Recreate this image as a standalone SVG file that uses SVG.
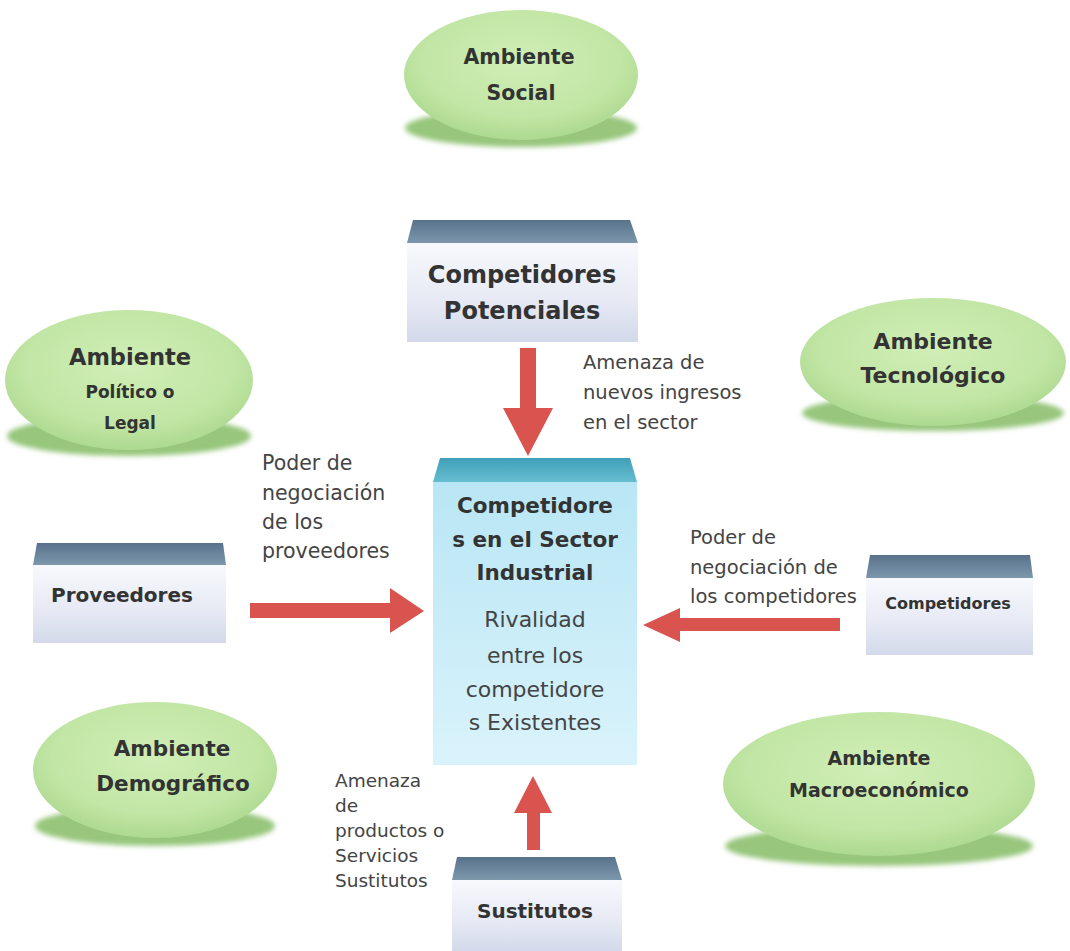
<svg xmlns="http://www.w3.org/2000/svg" width="1070" height="951" viewBox="0 0 1070 951">
<defs>
<radialGradient id="gEll" cx="50%" cy="40%" r="60%">
<stop offset="0" stop-color="#d0eeb6"/>
<stop offset="0.7" stop-color="#c2e6a5"/>
<stop offset="1" stop-color="#acd98f"/>
</radialGradient>
<linearGradient id="gBody" x1="0" y1="0" x2="0" y2="1">
<stop offset="0" stop-color="#f8f9fd"/>
<stop offset="0.6" stop-color="#e6e9f4"/>
<stop offset="1" stop-color="#d3d9ea"/>
</linearGradient>
<linearGradient id="gRoof" x1="0" y1="0" x2="0" y2="1">
<stop offset="0" stop-color="#57728a"/>
<stop offset="1" stop-color="#7d98ad"/>
</linearGradient>
<linearGradient id="gCBody" x1="0" y1="0" x2="0" y2="1">
<stop offset="0" stop-color="#b9e6f5"/>
<stop offset="1" stop-color="#d9f3fb"/>
</linearGradient>
<linearGradient id="gCRoof" x1="0" y1="0" x2="0" y2="1">
<stop offset="0" stop-color="#3f9fb8"/>
<stop offset="1" stop-color="#66bdd0"/>
</linearGradient>
<filter id="blur" x="-10%" y="-40%" width="120%" height="180%">
<feGaussianBlur stdDeviation="2.5"/>
</filter>
<style>
.sh{fill:#97c67c;filter:url(#blur)}
.el{fill:url(#gEll)}
.body{fill:url(#gBody)}
.roof{fill:url(#gRoof)}
.b{font-family:"DejaVu Sans","Liberation Sans",sans-serif;font-weight:bold;fill:#333;text-anchor:middle}
.r{font-family:"DejaVu Sans","Liberation Sans",sans-serif;fill:#444}
.rc{font-family:"DejaVu Sans","Liberation Sans",sans-serif;fill:#444;text-anchor:middle}
.arr{fill:#d9534f}
</style>
</defs>
<rect width="1070" height="951" fill="#ffffff"/>

<g id="connectors">
<polygon class="arr" points="520,348 536,348 536,408 553,408 528,456 503,408 520,408"/>
<polygon class="arr" points="250,603 390,603 390,588 424,611 390,633 390,618 250,618"/>
<polygon class="arr" points="840,618 680,618 680,608 643,625 680,642 680,631 840,631"/>
<polygon class="arr" points="527,850 540,850 540,813 552,813 533,776 514,813 527,813"/>
</g>

<g id="label-nuevos">
<text class="r" font-size="19.5" x="583" y="369">Amenaza de</text>
<text class="r" font-size="19.5" x="583" y="399">nuevos ingresos</text>
<text class="r" font-size="19.5" x="583" y="429">en el sector</text>
</g>
<g id="label-proveedores">
<text class="r" font-size="20.5" x="262" y="470">Poder de</text>
<text class="r" font-size="20.5" x="262" y="500">negociación</text>
<text class="r" font-size="20.5" x="262" y="529">de los</text>
<text class="r" font-size="20.5" x="262" y="558">proveedores</text>
</g>
<g id="label-competidores">
<text class="r" font-size="19.5" x="690" y="544">Poder de</text>
<text class="r" font-size="19.5" x="690" y="574">negociación de</text>
<text class="r" font-size="19.5" x="690" y="603">los competidores</text>
</g>
<g id="label-sustitutos">
<text class="r" font-size="18.5" x="335" y="787">Amenaza</text>
<text class="r" font-size="18.5" x="335" y="812">de</text>
<text class="r" font-size="18.5" x="335" y="837">productos o</text>
<text class="r" font-size="18.5" x="335" y="862">Servicios</text>
<text class="r" font-size="18.5" x="335" y="887">Sustitutos</text>
</g>

<g id="amb-social">
<ellipse class="sh" cx="521" cy="128" rx="116" ry="19"/>
<ellipse class="el" cx="521" cy="75" rx="117" ry="65"/>
<text class="b" font-size="20.5" x="519" y="64">Ambiente</text>
<text class="b" font-size="20.5" x="521" y="100">Social</text>
</g>

<g id="amb-politico">
<ellipse class="sh" cx="129" cy="436" rx="122" ry="20"/>
<ellipse class="el" cx="129" cy="380" rx="124" ry="70"/>
<text class="b" font-size="22.5" x="130" y="365">Ambiente</text>
<text class="b" font-size="17" x="130" y="398">Político o</text>
<text class="b" font-size="17" x="130" y="429">Legal</text>
</g>

<g id="amb-tecnologico">
<ellipse class="sh" cx="933" cy="413" rx="131" ry="18"/>
<ellipse class="el" cx="933" cy="362" rx="133" ry="64"/>
<text class="b" font-size="22" x="933" y="349">Ambiente</text>
<text class="b" font-size="22" x="933" y="383">Tecnológico</text>
</g>

<g id="amb-demografico">
<ellipse class="sh" cx="155" cy="826" rx="120" ry="20"/>
<ellipse class="el" cx="155" cy="770" rx="122" ry="68"/>
<text class="b" font-size="21.5" x="172" y="756">Ambiente</text>
<text class="b" font-size="21.5" x="173" y="791">Demográfico</text>
</g>

<g id="amb-macro">
<ellipse class="sh" cx="879" cy="846" rx="154" ry="20"/>
<ellipse class="el" cx="879" cy="784" rx="156" ry="72"/>
<text class="b" font-size="19" x="879" y="765">Ambiente</text>
<text class="b" font-size="19" x="879" y="797">Macroeconómico</text>
</g>

<g id="competidores-potenciales">
<rect class="body" x="407" y="243" width="231" height="99"/>
<polygon class="roof" points="413,220 630,220 638,243 407,243"/>
<text class="b" font-size="24" x="522" y="283">Competidores</text>
<text class="b" font-size="24" x="522" y="319">Potenciales</text>
</g>

<g id="sector-industrial">
<rect x="433" y="482" width="204" height="283" fill="url(#gCBody)"/>
<polygon points="440,458 630,458 637,482 433,482" fill="url(#gCRoof)"/>
<text class="b" font-size="21.5" x="535" y="513">Competidore</text>
<text class="b" font-size="21.5" x="535" y="547">s en el Sector</text>
<text class="b" font-size="21.5" x="535" y="580">Industrial</text>
<text class="rc" font-size="22" x="535" y="627">Rivalidad</text>
<text class="rc" font-size="22" x="535" y="663">entre los</text>
<text class="rc" font-size="22" x="535" y="697">competidore</text>
<text class="rc" font-size="22" x="535" y="730">s Existentes</text>
</g>

<g id="proveedores">
<rect class="body" x="33" y="565" width="193" height="78"/>
<polygon class="roof" points="37,543 223,543 226,565 33,565"/>
<text class="b" font-size="20" x="122" y="602">Proveedores</text>
</g>

<g id="competidores">
<rect class="body" x="866" y="578" width="167" height="77"/>
<polygon class="roof" points="870,555 1030,555 1033,578 866,578"/>
<text class="b" font-size="16" x="948" y="609">Competidores</text>
</g>

<g id="sustitutos">
<rect class="body" x="452" y="880" width="170" height="71"/>
<polygon class="roof" points="457,857 615,857 622,880 452,880"/>
<text class="b" font-size="20" x="535" y="918">Sustitutos</text>
</g>
</svg>
